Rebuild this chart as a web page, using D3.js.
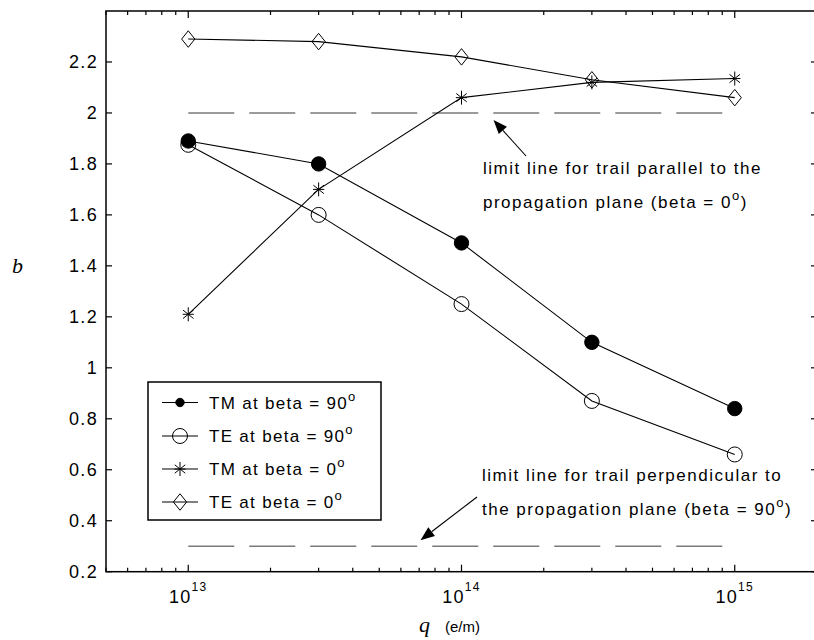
<!DOCTYPE html>
<html>
<head>
<meta charset="utf-8">
<script src="https://cdn.jsdelivr.net/npm/d3@7"></script>
<style>
  html, body { margin: 0; padding: 0; background: #fff; }
  svg { display: block; }
  .sans { font-family: "Liberation Sans", Arial, Helvetica, sans-serif; }
  .serif { font-family: "Liberation Serif", "Times New Roman", serif; font-style: italic; }
</style>
</head>
<body>
<svg id="chart" width="814" height="640"></svg>
<script>
// Line charge density q (e/m) at which b was computed
const qValues = [1e13, 3e13, 1e14, 3e14, 1e15];

// b for each polarisation / trail orientation
const tmBeta90 = [1.89, 1.80, 1.49, 1.10, 0.84];
const teBeta90 = [1.875, 1.60, 1.25, 0.87, 0.66];
const tmBeta0  = [1.21, 1.70, 2.06, 2.12, 2.135];
const teBeta0  = [2.29, 2.28, 2.22, 2.13, 2.06];

// Limit values of b for the two extreme trail orientations
const limitParallel = 2.0;
const limitPerpendicular = 0.3;

// Axis ticks
const yTicks = [0.2, 0.4, 0.6, 0.8, 1.0, 1.2, 1.4, 1.6, 1.8, 2.0, 2.2];
const xMajorExponents = [13, 14, 15];

const seriesNames = ["TM at beta = 90", "TE at beta = 90", "TM at beta = 0", "TE at beta = 0"];

const svg = d3.select("#chart");

const plot = { left: 106, right: 817, top: 11, bottom: 571.7 };

const x = d3.scaleLog().domain([5e12, 2e15]).range([plot.left, plot.right]);
const y = d3.scaleLinear().domain([0.2, 2.4]).range([plot.bottom, plot.top]);

// ---- frame ----
svg.append("rect")
  .attr("x", plot.left).attr("y", plot.top)
  .attr("width", plot.right - plot.left).attr("height", plot.bottom - plot.top)
  .attr("stroke", "#000").attr("stroke-width", 1.5).attr("fill", "none");

// ---- x ticks (log, inward on bottom and top) ----
const xTicksAll = [];
for (let e = 12; e <= 15; e++) {
  for (let m = 1; m <= 9; m++) {
    const v = m * Math.pow(10, e);
    if (v >= 5e12 && v <= 2e15) xTicksAll.push({ v, major: m === 1 });
  }
}
const tickG = svg.append("g").attr("stroke", "#000").attr("stroke-width", 1.2);
xTicksAll.forEach(t => {
  const len = t.major ? 7 : 4;
  const px = x(t.v);
  tickG.append("line").attr("x1", px).attr("x2", px).attr("y1", plot.bottom).attr("y2", plot.bottom - len);
  tickG.append("line").attr("x1", px).attr("x2", px).attr("y1", plot.top).attr("y2", plot.top + len);
});

// ---- y ticks (inward on left and right) ----
yTicks.forEach(v => {
  const py = y(v);
  tickG.append("line").attr("x1", plot.left).attr("x2", plot.left + 6).attr("y1", py).attr("y2", py);
  tickG.append("line").attr("x1", plot.right).attr("x2", plot.right - 6).attr("y1", py).attr("y2", py);
});

// ---- tick labels ----
const fmtY = v => String(+v.toFixed(1));
svg.append("g").attr("class", "sans")
  .selectAll("text").data(yTicks).join("text")
  .attr("x", 98).attr("y", d => y(d)).attr("dy", "0.36em")
  .attr("text-anchor", "end").attr("font-size", 18).attr("letter-spacing", 1.3)
  .text(fmtY);

const xl = svg.append("g").attr("class", "sans");
xMajorExponents.forEach(e => {
  const t = xl.append("text")
    .attr("x", x(Math.pow(10, e))).attr("y", 603)
    .attr("text-anchor", "middle").attr("font-size", 18).attr("letter-spacing", 1.3);
  t.append("tspan").text("10");
  t.append("tspan").attr("font-size", 12).attr("dy", -12).text(String(e));
});

// ---- axis titles ----
svg.append("text").attr("class", "serif")
  .attr("x", 12).attr("y", 273).attr("font-size", 22).text("b");
svg.append("text").attr("class", "serif")
  .attr("x", 419).attr("y", 632).attr("font-size", 22).text("q");
svg.append("text").attr("class", "sans")
  .attr("x", 445).attr("y", 632).attr("font-size", 15).text("(e/m)");

// ---- limit lines ----
svg.append("g").attr("stroke", "#7a7a7a").attr("stroke-width", 1.6)
  .attr("stroke-dasharray", "46 15").attr("fill", "none")
  .selectAll("line").data([limitParallel, limitPerpendicular]).join("line")
  .attr("x1", x(qValues[0])).attr("x2", x(qValues[qValues.length - 1]))
  .attr("y1", d => y(d)).attr("y2", d => y(d));

// ---- markers ----
const markerPath = {
  dot: r => d3.symbol(d3.symbolCircle, Math.PI * r * r)(),
  circle: r => d3.symbol(d3.symbolCircle, Math.PI * r * r)(),
  star: s => `M0,${-s}V${s}M${-0.75 * s},${-0.6 * s}L${0.75 * s},${0.6 * s}M${-0.75 * s},${0.6 * s}L${0.75 * s},${-0.6 * s}M${-0.8 * s},0H${0.8 * s}`,
  diamond: s => `M0,${-s * 1.25}L${s},0L0,${s * 1.25}L${-s},0Z`
};

const series = [
  { name: seriesNames[0], values: tmBeta90, kind: "dot",     size: 7.2, legendSize: 4.2 },
  { name: seriesNames[1], values: teBeta90, kind: "circle",  size: 7.5, legendSize: 7.5 },
  { name: seriesNames[2], values: tmBeta0,  kind: "star",    size: 7,   legendSize: 7 },
  { name: seriesNames[3], values: teBeta0,  kind: "diamond", size: 6.6, legendSize: 6.6 }
];

function drawMarker(g, kind, size) {
  g.append("path").attr("d", markerPath[kind](size))
    .attr("stroke", "#000").attr("stroke-width", 1)
    .attr("fill", kind === "dot" ? "#000" : "none");
}

const line = d3.line().x(d => x(d.q)).y(d => y(d.v));

series.forEach(s => {
  const pts = qValues.map((q, i) => ({ q, v: s.values[i] }));
  svg.append("path").datum(pts).attr("d", line)
    .attr("fill", "none").attr("stroke", "#000").attr("stroke-width", 1.1);
  pts.forEach(p => {
    const g = svg.append("g").attr("transform", `translate(${x(p.q)},${y(p.v)})`);
    drawMarker(g, s.kind, s.size);
  });
});

// ---- legend ----
const legend = svg.append("g").attr("transform", "translate(148,382)");
legend.append("rect").attr("width", 233).attr("height", 138)
  .attr("fill", "#fff").attr("stroke", "#000").attr("stroke-width", 1.5);
const rowY = [20.5, 54, 87, 120];
series.forEach((s, i) => {
  const row = legend.append("g").attr("transform", `translate(0,${rowY[i]})`);
  row.append("line").attr("x1", 14).attr("x2", 50).attr("y1", 0).attr("y2", 0)
    .attr("stroke", "#000").attr("stroke-width", 1.1);
  const mg = row.append("g").attr("transform", "translate(32,0)");
  drawMarker(mg, s.kind, s.legendSize);
  const t = row.append("text").attr("class", "sans")
    .attr("x", 61).attr("y", 6).attr("font-size", 17).attr("letter-spacing", 1.3);
  t.append("tspan").text(s.name);
  t.append("tspan").attr("font-size", 13).attr("dy", -8).text("o");
});

// ---- annotations ----
function annotation(xPos, y1, line1, line2pre, line2deg, line2post) {
  const g = svg.append("g").attr("class", "sans").attr("font-size", 17).attr("letter-spacing", 1.5);
  g.append("text").attr("x", xPos).attr("y", y1).text(line1);
  const t = g.append("text").attr("x", xPos).attr("y", y1 + 33.5);
  t.append("tspan").text(line2pre);
  t.append("tspan").attr("font-size", 13).attr("dy", -8).text(line2deg);
  t.append("tspan").attr("dy", 8).text(line2post);
}
annotation(483, 174, "limit line for trail parallel to the", "propagation plane (beta = 0", "o", ")");
annotation(482, 481, "limit line for trail perpendicular to", "the propagation plane (beta = 90", "o", ")");

// arrows pointing at the limit lines
function arrow(x0, y0, x1, y1) {
  const ang = Math.atan2(y1 - y0, x1 - x0);
  const L = 14, W = 5.5;
  const bx = x1 - L * Math.cos(ang), by = y1 - L * Math.sin(ang);
  svg.append("line").attr("x1", x0).attr("y1", y0).attr("x2", bx).attr("y2", by)
    .attr("stroke", "#000").attr("stroke-width", 1.1);
  const px = -Math.sin(ang) * W, py = Math.cos(ang) * W;
  svg.append("path")
    .attr("d", `M${x1},${y1}L${bx + px},${by + py}L${bx - px},${by - py}Z`)
    .attr("fill", "#000");
}
arrow(526, 156, x(1e14) + 32, y(limitParallel) + 7);
arrow(477, 497, 420.5, y(limitPerpendicular) - 6);
</script>
</body>
</html>
